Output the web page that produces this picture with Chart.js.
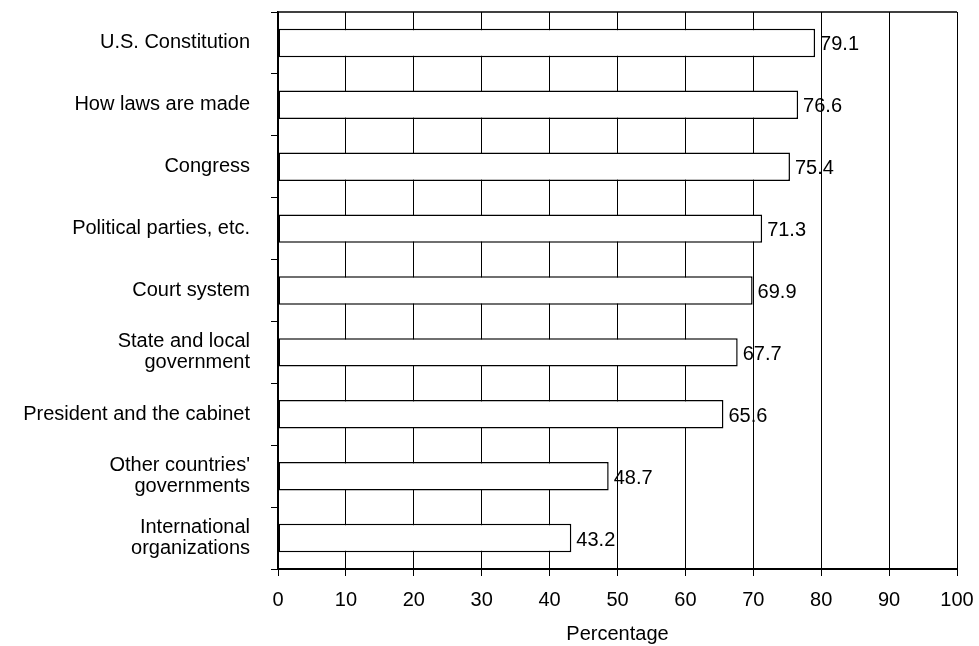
<!DOCTYPE html>
<html>
<head>
<meta charset="utf-8">
<script src="https://cdn.jsdelivr.net/npm/chart.js@4"></script>
<style>
  html, body { margin: 0; padding: 0; background: #fff; }
  #wrap { width: 979px; height: 646px; }
</style>
</head>
<body>
<div id="wrap"><canvas id="chart" width="979" height="646"></canvas></div>
<script>
// ===============================
// Data
// ===============================
const categories = [
  "U.S. Constitution",
  "How laws are made",
  "Congress",
  "Political parties, etc.",
  "Court system",
  ["State and local", "government"],
  "President and the cabinet",
  ["Other countries'", "governments"],
  ["International", "organizations"]
];
const percentages = [79.1, 76.6, 75.4, 71.3, 69.9, 67.7, 65.6, 48.7, 43.2];
const xTicks = [0, 10, 20, 30, 40, 50, 60, 70, 80, 90, 100];
const axisTitle = "Percentage";

const FONT = "'Liberation Sans', Arial, sans-serif";

// ===============================
// Value labels + top frame line
// ===============================
const valueLabels = {
  id: "valueLabels",
  afterDatasetsDraw(chart) {
    const ctx = chart.ctx;
    const meta = chart.getDatasetMeta(0);
    const area = chart.chartArea;
    ctx.save();
    // top edge of the plot frame
    ctx.strokeStyle = "#000";
    ctx.lineWidth = 1.5;
    ctx.beginPath();
    ctx.moveTo(area.left, area.top);
    ctx.lineTo(area.right, area.top);
    ctx.stroke();

    ctx.font = "20px " + FONT;
    ctx.fillStyle = "#000";
    ctx.textAlign = "left";
    ctx.textBaseline = "middle";
    meta.data.forEach((bar, i) => {
      ctx.fillText(percentages[i].toFixed(1), bar.x + 5, bar.y + 2);
    });
    ctx.restore();
  }
};

// ===============================
// Chart
// ===============================
new Chart(document.getElementById("chart"), {
  type: "bar",
  data: {
    labels: categories,
    datasets: [{
      data: percentages,
      backgroundColor: "#fff",
      borderColor: "#000",
      borderWidth: 1.5,
      borderSkipped: false,
      barPercentage: 0.46,
      categoryPercentage: 1
    }]
  },
  options: {
    indexAxis: "y",
    responsive: false,
    animation: false,
    layout: { padding: { top: 12, right: 22, left: 0, bottom: 0 } },
    plugins: {
      legend: { display: false },
      tooltip: { enabled: false }
    },
    scales: {
      x: {
        min: 0,
        max: 100,
        afterBuildTicks: scale => { scale.ticks = xTicks.map(v => ({ value: v })); },
        afterFit: scale => {
          scale.height = 77;
          scale.paddingLeft = 0;
          scale.paddingRight = 0;
        },
        grid: {
          color: "#000",
          lineWidth: 1,
          tickLength: 7
        },
        border: { color: "#000", width: 2 },
        ticks: {
          color: "#000",
          font: { family: FONT, size: 20 },
          padding: 12,
          maxRotation: 0,
          autoSkip: false
        },
        title: {
          display: true,
          text: axisTitle,
          color: "#000",
          font: { family: FONT, size: 20 },
          padding: { top: 0, bottom: 0 }
        }
      },
      y: {
        afterFit: scale => {
          scale.width = 278;
          scale.paddingTop = 0;
          scale.paddingBottom = 0;
        },
        grid: {
          offset: true,
          drawOnChartArea: false,
          color: "#000",
          tickLength: 7
        },
        border: { color: "#000", width: 1.5 },
        ticks: {
          color: "#000",
          font: { family: FONT, size: 20, lineHeight: 1.05 },
          padding: 21
        }
      }
    }
  },
  plugins: [valueLabels]
});
</script>
</body>
</html>
